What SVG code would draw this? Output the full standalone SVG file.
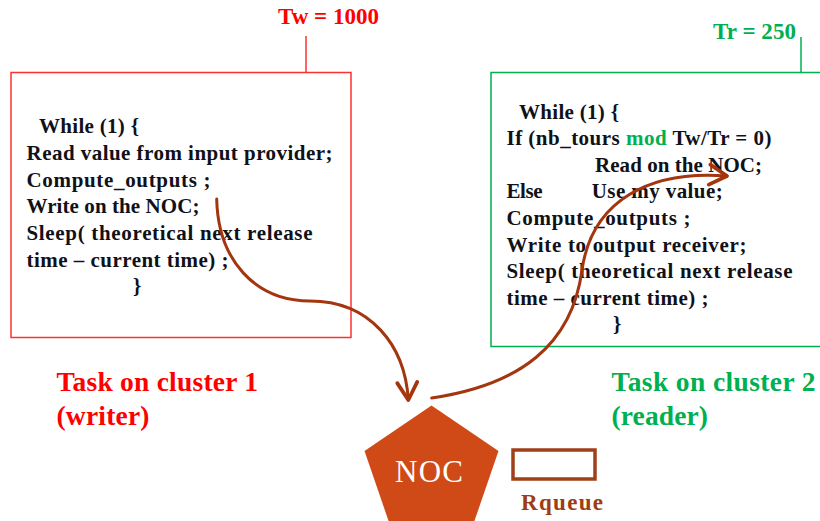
<svg xmlns="http://www.w3.org/2000/svg" width="820" height="521" viewBox="0 0 820 521">
<style>
.code{font-family:"Liberation Serif","Times New Roman",serif;font-weight:bold;font-size:21px;fill:#111118}
.red{fill:#FF0000}
.green{fill:#00B050}
.lbl{font-family:"Liberation Serif","Times New Roman",serif;font-weight:bold;font-size:27.5px}
.per{font-family:"Liberation Serif","Times New Roman",serif;font-weight:bold;font-size:23px}
.conn{fill:none;stroke:#A3360F;stroke-width:3;stroke-linecap:round}
</style>
<defs>
<marker id="arr" markerUnits="userSpaceOnUse" markerWidth="30" markerHeight="30" refX="0" refY="0" viewBox="-20 -12 24 24" orient="auto" overflow="visible">
<path d="M-14,-8 L0,0 L-14,8" fill="none" stroke="#A3360F" stroke-width="3" stroke-linecap="round" stroke-linejoin="round"/>
</marker>
</defs>
<rect width="820" height="521" fill="#FFFFFF"/>
<g id="writer">
<text class="per red" x="278" y="24" textLength="101" lengthAdjust="spacing">Tw = 1000</text>
<line x1="306" y1="36" x2="306" y2="73" stroke="#FF3030" stroke-width="1.5"/>
<rect x="11" y="72.5" width="340" height="265" fill="none" stroke="#FF3030" stroke-width="1.5"/>
<text class="code" x="39" y="133" textLength="100" lengthAdjust="spacing">While (1) {</text>
<text class="code" x="26.5" y="159.5" textLength="306" lengthAdjust="spacing">Read value from input provider;</text>
<text class="code" x="26.5" y="186.5" textLength="184" lengthAdjust="spacing">Compute_outputs ;</text>
<text class="code" x="26.5" y="213" textLength="173" lengthAdjust="spacing">Write on the NOC;</text>
<text class="code" x="26.5" y="240" textLength="286" lengthAdjust="spacing">Sleep( theoretical next release</text>
<text class="code" x="26.5" y="266.5" textLength="202" lengthAdjust="spacing">time – current time) ;</text>
<text class="code" x="133" y="293">}</text>
</g>
<g id="reader">
<text class="per green" x="713" y="39" textLength="83" lengthAdjust="spacing">Tr = 250</text>
<line x1="801" y1="37" x2="801" y2="73" stroke="#00B050" stroke-width="1.5"/>
<rect x="491" y="72.5" width="340" height="274" fill="none" stroke="#00B050" stroke-width="1.5"/>
<text class="code" x="519" y="118.5" textLength="100" lengthAdjust="spacing">While (1) {</text>
<text class="code" x="506.5" y="145" textLength="265" lengthAdjust="spacing">If (nb_tours <tspan class="green">mod</tspan> Tw/Tr = 0)</text>
<text class="code" x="595" y="171.7" textLength="167" lengthAdjust="spacing">Read on the NOC;</text>
<text class="code" x="506.5" y="198.3" textLength="36" lengthAdjust="spacing">Else</text>
<text class="code" x="591.7" y="198.3" textLength="131" lengthAdjust="spacing">Use my value;</text>
<text class="code" x="506.5" y="225" textLength="184" lengthAdjust="spacing">Compute_outputs ;</text>
<text class="code" x="506.5" y="251.6" textLength="240" lengthAdjust="spacing">Write to output receiver;</text>
<text class="code" x="506.5" y="278.2" textLength="286" lengthAdjust="spacing">Sleep( theoretical next release</text>
<text class="code" x="506.5" y="304.8" textLength="202" lengthAdjust="spacing">time – current time) ;</text>
<text class="code" x="613" y="331.4">}</text>
</g>
<g id="label-writer">
<text class="lbl red" x="56.5" y="390.5" textLength="201.5" lengthAdjust="spacing">Task on cluster 1</text>
<text class="lbl red" x="56.5" y="425" textLength="93" lengthAdjust="spacing">(writer)</text>
</g>
<g id="label-reader">
<text class="lbl green" x="611.5" y="390.5" textLength="204" lengthAdjust="spacing">Task on cluster 2</text>
<text class="lbl green" x="611.5" y="425" textLength="96.5" lengthAdjust="spacing">(reader)</text>
</g>
<g id="noc">
<polygon points="431.5,405.5 498.5,451 472,528 391,528 364.5,451" fill="#D04A17"/>
<text x="395" y="481.7" textLength="68" lengthAdjust="spacing" font-family="'Liberation Serif','Times New Roman',serif" font-size="31" fill="#FFFFFF">NOC</text>
</g>
<g id="rqueue">
<rect x="513" y="450" width="82" height="29" fill="#FFFFFF" stroke="#A0401A" stroke-width="3.5"/>
<text x="521" y="510" textLength="82" lengthAdjust="spacing" font-family="'Liberation Serif','Times New Roman',serif" font-weight="bold" font-size="23" fill="#9E3D12">Rqueue</text>
</g>
<g id="connectors">
<path class="conn" d="M216.7,199 C218,260 255,301 310,301 C370,301 405,345 408.3,400" marker-end="url(#arr)"/>
<path class="conn" d="M431.7,398 C520,385 572,345 582,270 C592,200 650,170 727,176" marker-end="url(#arr)"/>
</g>
</svg>
